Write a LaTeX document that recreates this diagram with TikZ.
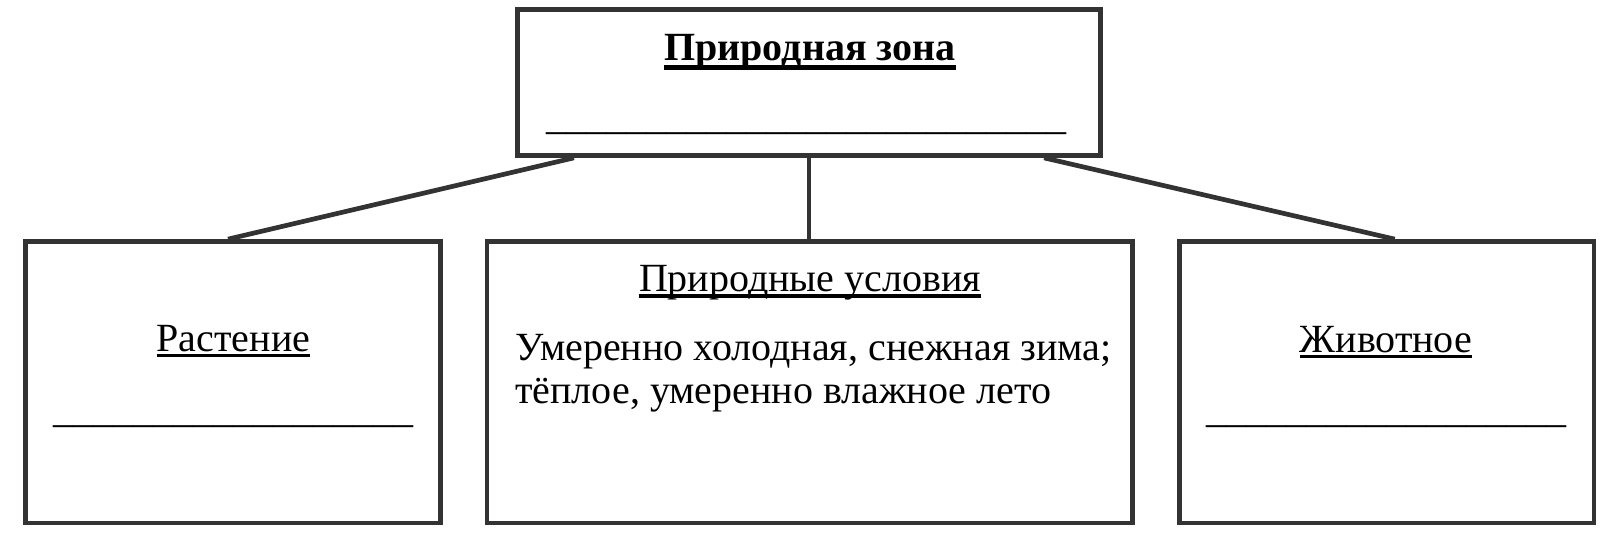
\documentclass[tikz,border=0pt]{standalone}
\usepackage{fontspec}
\setmainfont{Liberation Serif}
\usepackage{xcolor}
\usepackage{tikz}
\usetikzlibrary{positioning,calc}
\definecolor{boxgray}{HTML}{333333}
\newcommand{\ulin}[3]{\setbox0\hbox{#3}\rlap{\rule[-#1]{\wd0}{#2}}\box0}

\begin{document}
\begin{tikzpicture}[x=1pt, y=-1pt,
    box/.style={draw=boxgray, line width=4.7pt, inner sep=0pt},
    link/.style={draw=boxgray, line width=4.7pt},
    txt/.style={anchor=base, inner sep=0pt, font=\fontsize{40}{43}\selectfont},
    blank/.style={txt}]
    \useasboundingbox (0,0) rectangle (1612,538);

    \node [box, minimum width=583pt, minimum height=146pt] (zone) at (809,82.5) {};
    \node [box, minimum width=415pt, minimum height=281.5pt] (plant) at (233,382.25) {};
    \node [box, minimum width=645.5pt, minimum height=281.5pt] (cond) at (809.75,382.25) {};
    \node [box, minimum width=414.5pt, minimum height=281.5pt] (animal) at (1386.75,382.25) {};

    \node [txt, font=\fontsize{40}{43}\selectfont\bfseries] (zonetitle) at (810,60) {\ulin{10pt}{5pt}{Природная зона}};
    \node [blank] (zoneblank) at (806,129) {\_\_\_\_\_\_\_\_\_\_\_\_\_\_\_\_\_\_\_\_\_\_\_\_\_\_};

    \node [txt] (planttitle) at (233.5,351) {\ulin{6pt}{3pt}{Растение}};
    \node [blank] (plantblank) at (233.5,422) {\_\_\_\_\_\_\_\_\_\_\_\_\_\_\_\_\_\_};

    \node [txt] (condtitle) at (810,291) {\ulin{6.5pt}{3.3pt}{Природные условия}};
    \node [txt, anchor=base west] (condline1) at (515,360) {Умеренно холодная, снежная зима;};
    \node [txt, anchor=base west] (condline2) at (515,403) {тёплое, умеренно влажное лето};

    \node [txt] (animaltitle) at (1386,352) {\ulin{6pt}{3pt}{Животное}};
    \node [blank] (animalblank) at (1386,422) {\_\_\_\_\_\_\_\_\_\_\_\_\_\_\_\_\_\_};

    \draw [link] ($(zone.south west)!0.1!(zone.south east)$) -- ($(plant.north)+(-5,0)$);
    \draw [link] (zone.south) -- (zone.south |- cond.north);
    \draw [link] ($(zone.south east)!0.1!(zone.south west)$) -- ($(animal.north)+(8,0)$);
\end{tikzpicture}
\end{document}
